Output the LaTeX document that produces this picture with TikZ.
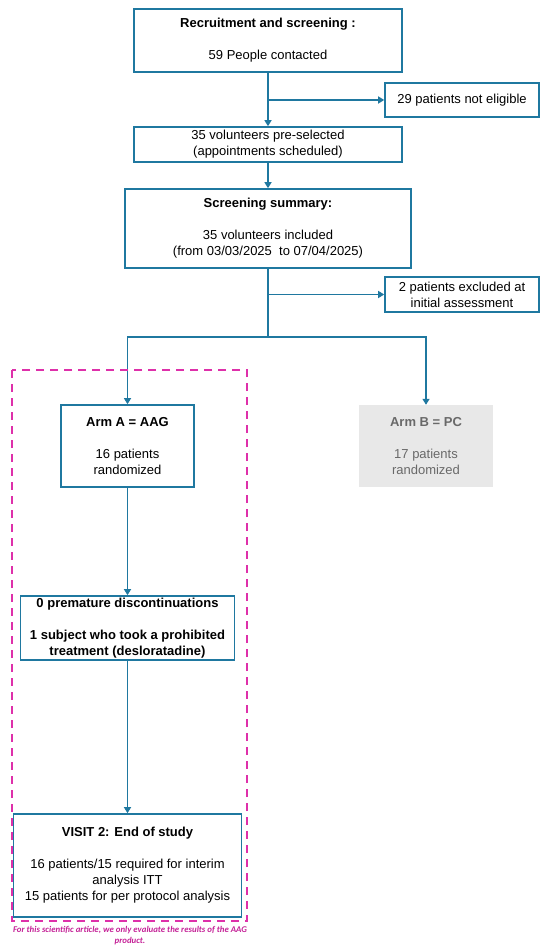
\documentclass[tikz,border=0pt]{standalone}
\usepackage{fontspec}
\setmainfont{Liberation Sans}
\newfontfamily\notefont{Carlito}
\usepackage{tikz}
\usetikzlibrary{positioning,arrows.meta,calc}

\definecolor{flowblue}{RGB}{31,120,160}
\definecolor{armpink}{RGB}{222,48,170}
\definecolor{notepink}{RGB}{196,32,150}
\definecolor{armgrey}{RGB}{232,232,232}
\definecolor{greytext}{RGB}{105,105,105}

\begin{document}
\begin{tikzpicture}[
    x=1pt, y=-1pt,
    font=\fontsize{13}{16}\selectfont,
    box/.style={draw=flowblue, line width=1.6pt, fill=white,
                inner sep=0pt, align=center},
    greybox/.style={fill=armgrey, inner sep=0pt, align=center, text=greytext},
    arr/.style={-{Triangle[length=6pt,width=7pt]}, draw=flowblue, line width=1.3pt},
    link/.style={draw=flowblue, line width=1.3pt}
  ]
    \useasboundingbox (0,0) rectangle (550,949);

    % screening part
    \node[box, minimum width=268pt, minimum height=63pt] (rec) at (268,40.5)
      {\textbf{Recruitment and screening :}\\[16pt]59 People contacted};
    \node[box, minimum width=154pt, minimum height=34pt] (noteli) at (462,100)
      {29 patients not eligible};
    \node[box, minimum width=268pt, minimum height=35pt] (pre) at (268,144.5)
      {35 volunteers pre-selected\\(appointments scheduled)};
    \node[box, minimum width=286pt, minimum height=79pt] (summ) at (268,228.5)
      {\textbf{Screening summary:}\\[16pt]35 volunteers included\\(from 03/03/2025\ \ to 07/04/2025)};
    \node[box, minimum width=154pt, minimum height=35pt] (excl) at (462,294.5)
      {2 patients excluded at\\initial assessment};

    % arms
    \node[box, minimum width=133pt, minimum height=82pt] (armA) at (127.5,446)
      {\textbf{Arm A = AAG}\\[16pt]16 patients\\randomized};
    \node[greybox, minimum width=134pt, minimum height=82pt] (armB) at (426,446)
      {\textbf{Arm B = PC}\\[16pt]17 patients\\randomized};
    \node[box, minimum width=214pt, minimum height=64pt] (disc) at (127.5,628)
      {\textbf{0 premature discontinuations}\\[16pt]\textbf{1 subject who took a prohibited}\\\textbf{treatment (desloratadine)}};
    \node[box, minimum width=228pt, minimum height=103pt] (visit) at (127.5,865.5)
      {\textbf{VISIT 2: End of study}\\[16pt]16 patients/15 required for interim\\analysis ITT\\15 patients for per protocol analysis};

    \coordinate (split) at (268,337);

    \draw[arr] (rec) -- (pre);
    \draw[arr] (rec.south |- noteli.west) -- (noteli.west);
    \draw[arr] (pre) -- (summ);
    \draw[link] (summ) -- (split);
    \draw[arr] (summ.south |- excl.west) -- (excl.west);
    \draw[arr] (split) -| (armA.north);
    \draw[arr] (split) -| (armB.north);
    \draw[arr] (armA) -- (disc);
    \draw[arr] (disc) -- (visit);

    % AAG frame
    \draw[armpink, line width=1.8pt, dash pattern=on 8pt off 6pt] (12,370) rectangle (247,921);
    \node[font=\notefont\bfseries\itshape\fontsize{8.8}{11}\selectfont, text=notepink, align=center] (note) at (130,935.5)
      {For this scientific article, we only evaluate the results of the AAG\\product.};
\end{tikzpicture}
\end{document}
